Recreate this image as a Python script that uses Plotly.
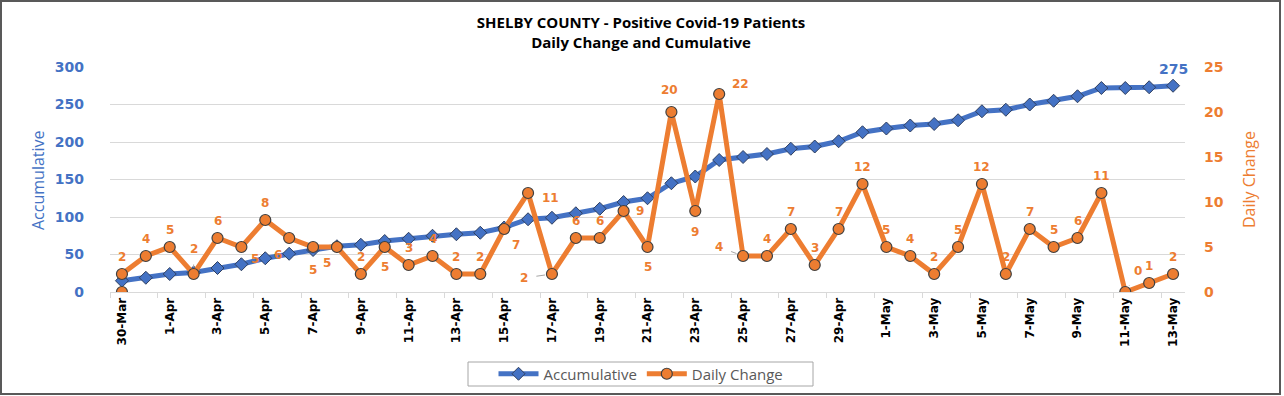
import plotly.graph_objects as go

dates = ["30-Mar", "31-Mar"] + [f"{d}-Apr" for d in range(1, 31)] + [f"{d}-May" for d in range(1, 14)]

daily_change = [2, 4, 5, 2, 6, 5, 8, 6, 5, 5, 2, 5, 3, 4, 2, 2, 7, 11, 2, 6, 6, 9, 5, 20, 9,
                22, 4, 4, 7, 3, 7, 12, 5, 4, 2, 5, 12, 2, 7, 5, 6, 11, 0, 1, 2]
accumulative = [15, 19, 24, 26, 32, 37, 45, 51, 56, 61, 63, 68, 71, 75, 77, 79, 86, 97, 99, 105,
                111, 120, 125, 145, 154, 176, 180, 184, 191, 194, 201, 213, 218, 222, 224, 229,
                241, 243, 250, 255, 261, 272, 272, 273, 275]
stray_point_date = ["30-Mar"]
stray_point_value = [0]

# label offsets (pixels) and whether a leader line is shown
label_offsets = [(0, -17, 0), (0, -17, 0), (0, -17, 0), (0, -25, 1), (0, -17, 0), (14, 12, 0),
                 (0, -17, 0), (-11, 17, 0), (0, 23, 1), (-10, 16, 0), (0, -17, 0), (0, 20, 1),
                 (0, -17, 0), (0, -17, 0), (0, -17, 0), (0, -17, 0), (12, 16, 0), (22, 5, 1),
                 (-28, 4, 1), (0, -17, 0), (0, -17, 0), (16, 0, 0), (0, 20, 1), (-2, -22, 1),
                 (0, 21, 1), (21, -10, 1), (-24, -9, 1), (0, -17, 0), (0, -17, 0), (0, -17, 0),
                 (0, -17, 0), (0, -17, 0), (0, -17, 0), (0, -17, 0), (0, -17, 0), (0, -17, 0),
                 (0, -17, 0), (0, -17, 0), (0, -17, 0), (0, -17, 0), (0, -17, 0), (0, -17, 0),
                 (13, -21, 1), (0, -17, 0), (0, -17, 0)]

BLUE = "#4472C4"
ORANGE = "#ED7D31"

L, R, T, B = 110, 99, 67, 104
W, H = 1284, 396
PW, PH = W - L - R, H - T - B


def px(x):
    return (x - L) / PW


def py(y):
    return (H - B - y) / PH


fig = go.Figure()
fig.add_trace(go.Scatter(
    x=dates, y=accumulative, name="Accumulative", mode="lines+markers",
    line=dict(color=BLUE, width=5),
    marker=dict(symbol="diamond", size=10, color=BLUE, line=dict(color="#2F3F5F", width=1)),
    yaxis="y"))
fig.add_trace(go.Scatter(
    x=dates, y=daily_change, name="Daily Change", mode="lines+markers",
    line=dict(color=ORANGE, width=5),
    marker=dict(symbol="circle", size=11, color=ORANGE, line=dict(color="#404040", width=1.2)),
    yaxis="y2"))
fig.add_trace(go.Scatter(
    x=stray_point_date, y=stray_point_value, mode="markers", showlegend=False,
    marker=dict(symbol="circle", size=11, color=ORANGE, line=dict(color="#404040", width=1.2)),
    yaxis="y2", hoverinfo="skip"))

annotations = []
for d, v, (dx, dy, lead) in zip(dates, daily_change, label_offsets):
    annotations.append(dict(
        x=d, y=v, xref="x", yref="y2", text=str(v), showarrow=True,
        ax=dx, ay=dy, axref="pixel", ayref="pixel",
        arrowhead=0, arrowwidth=1,
        arrowcolor="#A6A6A6" if lead else "rgba(0,0,0,0)",
        standoff=7, startstandoff=7,
        font=dict(family="DejaVu Sans", size=12, color=ORANGE, weight="bold")))
annotations.append(dict(
    x=dates[-1], y=accumulative[-1], xref="x", yref="y", text=str(accumulative[-1]),
    showarrow=False, yshift=17,
    font=dict(family="DejaVu Sans", size=14, color=BLUE, weight="bold")))
annotations.append(dict(
    x=px(38), y=py(180), xref="paper", yref="paper", text="Accumulative", showarrow=False,
    xanchor="center", yanchor="middle",
    textangle=-90, font=dict(family="Open Sans", size=16, color=BLUE)))
annotations.append(dict(
    x=px(1249), y=py(180), xref="paper", yref="paper", text="Daily Change", showarrow=False,
    xanchor="center", yanchor="middle",
    textangle=-90, font=dict(family="Open Sans", size=16, color=ORANGE)))

fig.update_layout(
    width=W, height=H,
    margin=dict(l=L, r=R, t=T, b=B, autoexpand=False),
    paper_bgcolor="white", plot_bgcolor="white",
    title=dict(text="SHELBY COUNTY - Positive Covid-19 Patients<br>Daily Change and Cumulative",
               x=641 / W, xref="container", xanchor="center",
               y=1 - 28 / H, yref="container", yanchor="middle",
               font=dict(family="Open Sans", size=15, color="#000000", weight="bold")),
    showlegend=True,
    legend=dict(orientation="h", x=641 / W, xref="container", xanchor="center",
                y=1 - 374 / H, yref="container", yanchor="middle",
                borderwidth=0, bgcolor="rgba(0,0,0,0)",
                font=dict(family="Open Sans", size=15, color="#595959"),
                itemwidth=40, tracegroupgap=0),
    xaxis=dict(type="category", range=[-0.5, len(dates) - 0.5], dtick=2, automargin=False,
               tickson="boundaries", ticks="outside", ticklen=5, tickcolor="#D9D9D9",
               showgrid=False, showline=True, linecolor="#D9D9D9", linewidth=1,
               tickangle=-90,
               tickfont=dict(family="DejaVu Sans", size=12, color="#000000", weight="bold")),
    yaxis=dict(range=[0, 300], dtick=50, showgrid=True, gridcolor="#D9D9D9", gridwidth=1,
               zeroline=False, ticks="", ticklabelstandoff=25, automargin=False,
               tickfont=dict(family="DejaVu Sans", size=14, color=BLUE, weight="bold")),
    yaxis2=dict(range=[0, 25], dtick=5, overlaying="y", side="right", showgrid=False,
                zeroline=False, ticks="", ticklabelstandoff=18, automargin=False,
                tickfont=dict(family="DejaVu Sans", size=14, color=ORANGE, weight="bold")),
    annotations=annotations,
    shapes=[dict(type="rect", xref="paper", yref="paper",
                 x0=px(1), x1=px(1280), y0=py(394), y1=py(1),
                 line=dict(color="#595959", width=2), fillcolor="rgba(0,0,0,0)", layer="below"),
            dict(type="rect", xref="paper", yref="paper",
                 x0=px(468), x1=px(813), y0=py(386), y1=py(362),
                 line=dict(color="#A6A6A6", width=1), fillcolor="rgba(0,0,0,0)", layer="below")],
)

fig.write_html("out.html", config={"displayModeBar": False},
               post_script="document.body.style.margin='0';document.body.style.overflow='hidden';")
